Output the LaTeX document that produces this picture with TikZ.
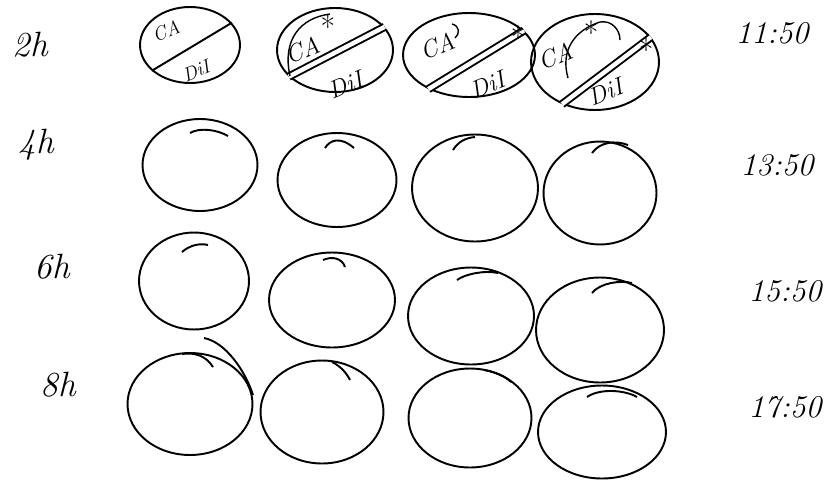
\documentclass[tikz,border=0pt]{standalone}
\usetikzlibrary{shapes.geometric}
\begin{document}
\begin{tikzpicture}[x=0.02cm, y=-0.02cm, line width=1.1pt,
  dish/.style={draw, ellipse, inner sep=0pt},
  lbl/.style={font=\fontsize{20}{24}\selectfont\itshape},
  tm/.style={font=\fontsize{18}{22}\selectfont\itshape},
  half/.style={font=\fontsize{14}{16}\selectfont\itshape, rotate=22, inner sep=1pt},
  small/.style={font=\fontsize{11}{13}\selectfont\itshape, rotate=22, inner sep=1pt},
  star/.style={font=\fontsize{18}{20}\selectfont, inner sep=0pt},
  cut/.style={double, double distance=2.5pt}]
  \useasboundingbox (0,0) rectangle (837,480);
  \node[lbl] (h2) at (30,45) {2h};
  \node[lbl] (h4) at (36,145) {4h};
  \node[lbl] (h6) at (52,267) {6h};
  \node[lbl] (h8) at (58,385) {8h};
  \node[tm] (t11) at (772,33) {11:50};
  \node[tm] (t13) at (777,165) {13:50};
  \node[tm] (t15) at (785,291) {15:50};
  \node[tm] (t17) at (785,407) {17:50};
  \node[dish, minimum width=2.00cm, minimum height=1.52cm] (d11) at (190,45) {};
  \node[dish, minimum width=2.32cm, minimum height=1.68cm] (d12) at (335,50) {};
  \node[dish, minimum width=2.64cm, minimum height=1.68cm] (d13) at (469,55) {};
  \node[dish, minimum width=2.56cm, minimum height=1.92cm] (d14) at (595,62) {};
  \node[dish, minimum width=2.30cm, minimum height=1.84cm] (d21) at (200,165) {};
  \node[dish, minimum width=2.38cm, minimum height=1.88cm] (d22) at (337,180) {};
  \node[dish, minimum width=2.52cm, minimum height=2.14cm] (d23) at (475,188) {};
  \node[dish, minimum width=2.26cm, minimum height=2.06cm] (d24) at (600,193) {};
  \node[dish, minimum width=2.20cm, minimum height=1.94cm] (d31) at (194,281) {};
  \node[dish, minimum width=2.52cm, minimum height=1.90cm] (d32) at (332,300) {};
  \node[dish, minimum width=2.52cm, minimum height=1.94cm] (d33) at (471,316) {};
  \node[dish, minimum width=2.56cm, minimum height=2.10cm] (d34) at (600,330) {};
  \node[dish, minimum width=2.50cm, minimum height=2.04cm] (d41) at (190,404) {};
  \node[dish, minimum width=2.46cm, minimum height=2.06cm] (d42) at (322,412) {};
  \node[dish, minimum width=2.46cm, minimum height=1.98cm] (d43) at (470,418) {};
  \node[dish, minimum width=2.56cm, minimum height=1.86cm] (d44) at (602,432) {};
  \draw (d11.214) -- (d11.28);
  \draw[cut] (d12.210) -- (d12.25);
  \draw[cut] (d13.220) -- (d13.24);
  \draw[cut] (d14.232) -- (d14.24);
  \node[small] (ca1) at (166,31) {CA};
  \node[small] (di1) at (196,71) {DiI};
  \node[half] (ca2) at (303,50) {CA};
  \node[star] (s2) at (328,27) {*};
  \node[half] (di2) at (346,85) {DiI};
  \node[half] (ca3) at (438,46) {CA};
  \node[star] (s3) at (518,38) {*};
  \node[half] (di3) at (488,85) {DiI};
  \node[half] (ca4) at (556,56) {CA};
  \node[star] (s4a) at (591,33) {*};
  \node[half] (di4) at (606,92) {DiI};
  \node[star] (s4b) at (646,50) {*};
  \draw[line width=0.8pt] (290,76) .. controls (282,40) and (300,18) .. (330,14);
  \draw[line width=0.8pt] (452,24) .. controls (460,26) and (460,34) .. (455,38);
  \draw[line width=0.8pt] (568,78) .. controls (560,50) and (575,30) .. (600,22) .. controls (612,20) and (620,30) .. (620,40);
  \draw (190,133) .. controls (200,127) and (218,130) .. (228,136);
  \draw (325,148) .. controls (330,140) and (340,136) .. (354,148);
  \draw (453,150) .. controls (458,142) and (465,138) .. (475,137);
  \draw (592,153) .. controls (600,142) and (615,140) .. (628,145);
  \draw (182,252) .. controls (190,245) and (200,243) .. (208,245);
  \draw (323,260) .. controls (332,256) and (342,258) .. (345,267);
  \draw (457,280) .. controls (465,274) and (485,270) .. (498,273);
  \draw (592,293) .. controls (600,283) and (620,280) .. (632,283);
  \draw (213,367) .. controls (206,356) and (195,352) .. (182,354);
  \draw (204,338) .. controls (225,342) and (245,370) .. (253,395);
  \draw (332,362) .. controls (340,366) and (346,372) .. (350,380);
  \draw (484,370) .. controls (495,372) and (505,376) .. (511,382);
  \draw (587,397) .. controls (600,388) and (625,390) .. (637,397);
\end{tikzpicture}
\end{document}
